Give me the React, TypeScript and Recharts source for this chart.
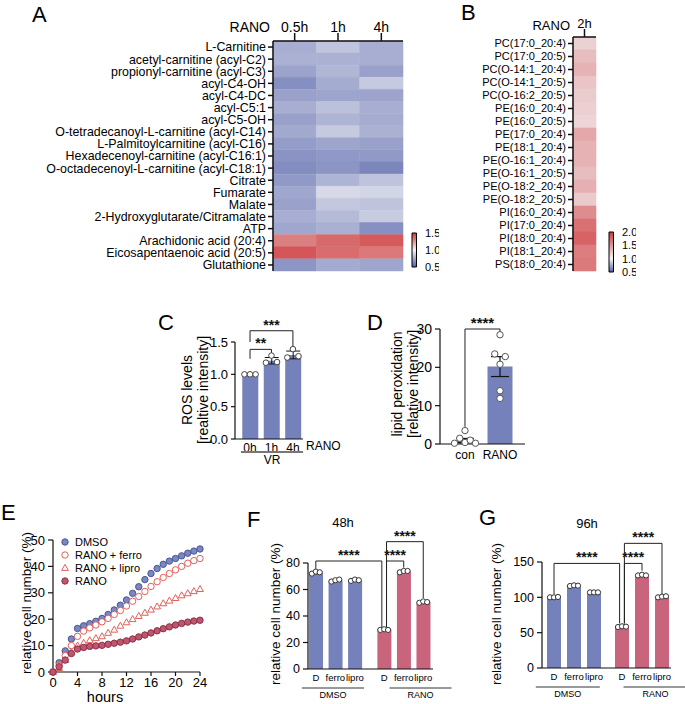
import React from "react";
import {
  BarChart, Bar, Cell, XAxis, YAxis, ComposedChart, Scatter, ScatterChart,
  ErrorBar, ReferenceLine,
} from "recharts";

const FONT = "'Liberation Sans', Arial, Helvetica, sans-serif";
const AX = "#111";
const BLUE = "#7581bb";
const RED = "#c8647b";

// ---------- A: metabolite heatmap ----------
const metabolites = [
  "L-Carnitine",
  "acetyl-carnitine (acyl-C2)",
  "propionyl-carnitine (acyl-C3)",
  "acyl-C4-OH",
  "acyl-C4-DC",
  "acyl-C5:1",
  "acyl-C5-OH",
  "O-tetradecanoyl-L-carnitine (acyl-C14)",
  "L-Palmitoylcarnitine (acyl-C16)",
  "Hexadecenoyl-carnitine (acyl-C16:1)",
  "O-octadecenoyl-L-carnitine (acyl-C18:1)",
  "Citrate",
  "Fumarate",
  "Malate",
  "2-Hydroxyglutarate/Citramalate",
  "ATP",
  "Arachidonic acid (20:4)",
  "Eicosapentaenoic acid (20:5)",
  "Glutathione",
];
const timesA = ["0.5h", "1h", "4h"];
const rano05h = [0.77, 0.78, 0.735, 0.665, 0.726, 0.77, 0.723, 0.752, 0.71, 0.677, 0.658, 0.7, 0.745, 0.726, 0.768, 0.745, 1.31, 1.42, 0.684];
const rano1h = [0.845, 0.78, 0.794, 0.761, 0.739, 0.832, 0.787, 0.861, 0.739, 0.694, 0.684, 0.787, 0.913, 0.855, 0.81, 0.774, 1.37, 1.36, 0.758];
const rano4h = [0.77, 0.77, 0.723, 0.861, 0.732, 0.77, 0.761, 0.78, 0.723, 0.7, 0.635, 0.839, 0.9, 0.839, 0.868, 0.668, 1.41, 1.33, 0.742];
const scaleATicks = [0.5, 1.0, 1.5];

// ---------- B: lipid heatmap ----------
const lipids = [
  "PC(17:0_20:4)", "PC(17:0_20:5)", "PC(O-14:1_20:4)", "PC(O-14:1_20:5)", "PC(O-16:2_20:5)",
  "PE(16:0_20:4)", "PE(16:0_20:5)", "PE(17:0_20:4)", "PE(18:1_20:4)", "PE(O-16:1_20:4)",
  "PE(O-16:1_20:5)", "PE(O-18:2_20:4)", "PE(O-18:2_20:5)", "PI(16:0_20:4)", "PI(17:0_20:4)",
  "PI(18:0_20:4)", "PI(18:1_20:4)", "PS(18:0_20:4)",
];
const rano2h = [1.18, 1.29, 1.35, 1.25, 1.21, 1.19, 1.16, 1.4, 1.35, 1.35, 1.29, 1.36, 1.22, 1.55, 1.7, 1.77, 1.63, 1.65];
const scaleBTicks = [0.5, 1.0, 1.5, 2.0];

// ---------- C: ROS ----------
const rosCats = ["0h", "1h", "4h"];
const rosMean = [1.0, 1.21, 1.3];
const rosSd = [0.0, 0.05, 0.06];
const rosReps = [[1.0, 1.0, 1.0], [1.18, 1.29, 1.19], [1.26, 1.39, 1.28]];

// ---------- D: lipid peroxidation ----------
const lpoCats = ["con", "RANO"];
const lpoMean = [0.95, 20.2];
const lpoSem = [0.5, 2.6];
const lpoReps = [[3.5, 1.5, 0.2, 0.4, 1.0, 0.2], [28.5, 23.5, 22.8, 20.8, 13.9, 11.9]];

// ---------- E: growth curves ----------
const hours = [0, 1, 2, 3, 4, 5, 6, 7, 8, 9, 10, 11, 12, 13, 14, 15, 16, 17, 18, 19, 20, 21, 22, 23, 24];
const eDmso = [0, 3.5, 8, 12.5, 16.5, 17.5, 18.3, 19.2, 20.3, 21.8, 23.5, 25.3, 27.3, 29.8, 32.3, 35, 37.3, 39.2, 40.8, 42, 43, 44, 45, 45.8, 46.6];
const eFerro = [0, 2.5, 6.2, 10, 13.5, 15.5, 16.7, 17.8, 19, 20.3, 21.8, 23.3, 25, 26.8, 28.6, 30.5, 32.4, 34.2, 35.8, 37.3, 38.7, 40, 41.2, 42.2, 43];
const eLipro = [0, 1.5, 4.5, 7.5, 10, 11, 12, 12.8, 13.5, 14.8, 16, 17.5, 18.8, 20, 21.2, 22.4, 23.6, 24.8, 26, 27, 28, 29, 29.8, 30.6, 31.4];
const eRano = [0, 2, 4.5, 7, 8.7, 9.3, 9.7, 9.9, 10.1, 10.5, 10.9, 11.3, 11.8, 12.5, 13.3, 14, 14.8, 15.6, 16.4, 17.1, 17.8, 18.4, 18.9, 19.3, 19.6];

// ---------- F / G: cell number ----------
const treatCats = ["D", "ferro", "lipro", "D", "ferro", "lipro"];
const groupNames = ["DMSO", "RANO"];
const f48Mean = [72.8, 66.8, 67.0, 29.7, 73.7, 50.5];
const f48Sd = [0.8, 0.6, 0.5, 0.3, 0.6, 0.5];
const f48Reps = [[72, 73.5, 73], [66, 67, 67.5], [66.5, 67.5, 67], [29.5, 30, 29.5], [73, 74, 74], [50, 51, 50.5]];
const g96Mean = [100.2, 116.5, 107, 58.5, 131.3, 100.8];
const g96Sd = [0.3, 0.5, 0.2, 0.5, 0.6, 0.8];
const g96Reps = [[100, 100, 100.5], [116, 117, 116.5], [107, 107, 107], [58, 59, 58.5], [131, 132, 131], [100, 101, 101.5]];

// brackets: [barA, barB, y, legA, legB, stars]
type Br = [number, number, number, number, number, string];
const rosBrackets: Br[] = [
  [0, 1, 1.386, 1.24, 1.31, "**"],
  [0, 2, 1.674, 1.5, 1.426, "***"],
];
const lpoBrackets: Br[] = [[0, 1, 30, 4.5, 29, "****"]];
const f48Brackets: Br[] = [
  [0, 3, 81.5, 75.5, 31.5, "****"],
  [3, 4, 81.5, 31.5, 76.5, "****"],
  [3, 5, 96.1, 31.5, 53.5, "****"],
];
const g96Brackets: Br[] = [
  [0, 3, 148, 104.3, 63, "****"],
  [3, 4, 148, 63, 137.7, "****"],
  [3, 5, 176.4, 63, 104.7, "****"],
];

// ---------- helpers ----------
const LOW = [80, 94, 168];
const MID = [243, 243, 245];
const HIGH = [206, 56, 58];
function mix(a: number[], b: number[], t: number) {
  return `rgb(${a.map((v, i) => Math.round(v + (b[i] - v) * t)).join(",")})`;
}
function heat(v: number, lo: number, hi: number) {
  if (v < 1) return mix(MID, LOW, Math.min(1, (1 - v) / (1 - lo)));
  return mix(MID, HIGH, Math.min(1, (v - 1) / (hi - 1)));
}

function Txt({ x, y, size, anchor = "start", rotate = false, weight = 400, children }: any) {
  const tx = anchor === "start" ? "0" : anchor === "middle" ? "-50%" : "-100%";
  return (
    <div
      style={{
        position: "absolute", left: x, top: y, fontSize: size, fontWeight: weight,
        lineHeight: 1, whiteSpace: "nowrap",
        transform: rotate ? "translate(-50%,-50%) rotate(-90deg)" : `translate(${tx},-50%)`,
      }}
    >
      {children}
    </div>
  );
}

function Abs({ left, top, children }: any) {
  return <div style={{ position: "absolute", left, top }}>{children}</div>;
}

function starLabel(stars: string, size: number) {
  return (p: any) => {
    const vb = p.viewBox || {};
    return (
      <text x={vb.x + (vb.width || 0) / 2} y={vb.y - 1} textAnchor="middle" fontSize={size} fontWeight={700} fill="#111">
        {stars}
      </text>
    );
  };
}

function brackets(id: string, list: Br[], pos: number[], size: number, shift = 0) {
  const out: any[] = [];
  list.forEach(([a, b, y, la, lb, s], i) => {
    // legs that share the RANO D bar are nudged apart a little
    const xa = pos[a] + (a === 3 && shift ? shift : 0);
    const xb = pos[b] - (b === 3 && shift ? shift : 0);
    const common = { stroke: "#222", strokeWidth: 1, ifOverflow: "visible" as const };
    out.push(<ReferenceLine key={`${id}${i}h`} segment={[{ x: xa, y }, { x: xb, y }]} {...common} label={starLabel(s, size)} />);
    out.push(<ReferenceLine key={`${id}${i}a`} segment={[{ x: xa, y }, { x: xa, y: la }]} {...common} />);
    out.push(<ReferenceLine key={`${id}${i}b`} segment={[{ x: xb, y }, { x: xb, y: lb }]} {...common} />);
  });
  return out;
}

const openDot = (r: number, stroke = "#444") => (p: any) => (
  <circle cx={p.cx} cy={p.cy} r={r} fill="#fff" stroke={stroke} strokeWidth={1} />
);

// ---------- heatmaps ----------
function HeatmapA() {
  const rows = metabolites.map((name) => ({ name, c0: 1, c1: 1, c2: 1 }));
  const cols = [rano05h, rano1h, rano4h];
  return (
    <BarChart layout="vertical" width={420} height={280} data={rows}
      margin={{ top: 11, right: 17, bottom: 9, left: 0 }} barCategoryGap={0} barGap={0}>
      <XAxis type="number" orientation="top" domain={[0, 3]} ticks={[0.5, 1.5, 2.5]}
        tickFormatter={(v) => timesA[Math.floor(v)]} height={30} tickSize={8} tickMargin={1} interval={0}
        stroke={AX} strokeWidth={1.5} tick={{ fontSize: 14, fill: "#000" }} />
      <XAxis xAxisId="frame" type="number" orientation="bottom" domain={[0, 3]} height={0}
        tick={false} tickLine={false} stroke={AX} strokeWidth={1.5} />
      <YAxis type="category" dataKey="name" width={273} interval={0} tickSize={5} tickMargin={2}
        stroke={AX} strokeWidth={1.5} tick={{ fontSize: 12.4, fill: "#000" }} />
      <YAxis yAxisId="frame" type="category" dataKey="name" orientation="right" width={0}
        tick={false} tickLine={false} stroke={AX} strokeWidth={1.5} />
      {cols.map((vals, j) => (
        <Bar key={j} dataKey={`c${j}`} stackId="h" isAnimationActive={false}>
          {vals.map((v, i) => (
            <Cell key={i} fill={heat(v, 0.5, 1.5)} stroke={heat(v, 0.5, 1.5)} strokeWidth={0.6} />
          ))}
        </Bar>
      ))}
    </BarChart>
  );
}

function HeatmapB() {
  const rows = lipids.map((name) => ({ name, c0: 1 }));
  return (
    <BarChart layout="vertical" width={200} height={280} data={rows}
      margin={{ top: 7, right: 14, bottom: 9, left: 0 }} barCategoryGap={0} barGap={0}>
      <XAxis type="number" orientation="top" domain={[0, 1]} ticks={[0.5]} tickFormatter={() => "2h"}
        height={30} tickSize={8} tickMargin={1} interval={0} stroke={AX} strokeWidth={1.5}
        tick={{ fontSize: 13, fill: "#000" }} />
      <XAxis xAxisId="frame" type="number" orientation="bottom" domain={[0, 1]} height={0}
        tick={false} tickLine={false} stroke={AX} strokeWidth={1.5} />
      <YAxis type="category" dataKey="name" width={163} interval={0} tickSize={5} tickMargin={2}
        stroke={AX} strokeWidth={1.5} tick={{ fontSize: 11, fill: "#000" }} />
      <YAxis yAxisId="frame" type="category" dataKey="name" orientation="right" width={0}
        tick={false} tickLine={false} stroke={AX} strokeWidth={1.5} />
      <Bar dataKey="c0" stackId="h" isAnimationActive={false}>
        {rano2h.map((v, i) => (
          <Cell key={i} fill={heat(v, 0.5, 2.0)} stroke={heat(v, 0.5, 2.0)} strokeWidth={0.6} />
        ))}
      </Bar>
    </BarChart>
  );
}

function ColorBar({ id, ticks, height, top, bottom }: any) {
  const lo = ticks[0];
  const hi = ticks[ticks.length - 1];
  const whiteAt = ((hi - 1) / (hi - lo)) * 100;
  return (
    <BarChart width={34} height={height} data={[{ name: "", r: [lo, hi] }]}
      margin={{ top, bottom, left: 7, right: 0 }} barCategoryGap={0}>
      <defs>
        <linearGradient id={id} x1="0" y1="0" x2="0" y2="1">
          <stop offset="0%" stopColor={mix(MID, HIGH, 1)} />
          <stop offset={`${whiteAt}%`} stopColor={mix(MID, HIGH, 0)} />
          <stop offset="100%" stopColor={mix(MID, LOW, 1)} />
        </linearGradient>
      </defs>
      <XAxis dataKey="name" hide />
      <YAxis orientation="right" domain={[lo, hi]} ticks={ticks} width={22} tickLine={false}
        axisLine={false} tickMargin={2} interval={0} tick={{ fontSize: 11, fill: "#000" }}
        tickFormatter={(v) => Number(v).toFixed(1)} />
      <Bar dataKey="r" fill={`url(#${id})`} stroke="#000" strokeWidth={1} barSize={5} isAnimationActive={false} />
    </BarChart>
  );
}

// ---------- C ----------
function RosChart() {
  const pos = rosCats.map((_, i) => i);
  const dom = [-0.7, 2.47];
  const bars = pos.map((x, i) => ({ x, y: rosMean[i], sd: rosSd[i] }));
  const pts = rosReps.flatMap((r, i) => r.map((y, k) => ({ x: pos[i] + (k - 1) * 0.26, y })));
  return (
    <ComposedChart width={200} height={170} data={bars} margin={{ top: 42, right: 37, bottom: 11, left: 0 }}>
      <XAxis dataKey="x" type="number" domain={dom} ticks={pos} interval={0}
        tickFormatter={(v) => rosCats[v]} height={20} tickLine={false} tickSize={0} tickMargin={4}
        stroke={AX} strokeWidth={1.2} tick={{ fontSize: 12, fill: "#000" }} />
      <XAxis xAxisId="pts" dataKey="x" type="number" domain={dom} hide />
      <YAxis type="number" domain={[0, 1.5]} ticks={[0, 0.5, 1, 1.5]} width={95} tickSize={4} tickMargin={3}
        tickFormatter={(v) => Number(v).toFixed(1)} stroke={AX} strokeWidth={1.2}
        tick={{ fontSize: 13, fill: "#000" }} />
      <Bar dataKey="y" fill={BLUE} barSize={16} isAnimationActive={false}>
        <ErrorBar dataKey="sd" width={7} stroke="#111" strokeWidth={1} direction="y" />
      </Bar>
      <Scatter xAxisId="pts" data={pts} dataKey="y" shape={openDot(2.8)} isAnimationActive={false} />
      {brackets("c", rosBrackets, pos, 14)}
    </ComposedChart>
  );
}

// ---------- D ----------
function LpoChart() {
  const pos = lpoCats.map((_, i) => i);
  const dom = [-0.714, 1.714];
  const bars = pos.map((x, i) => ({ x, y: lpoMean[i], sem: lpoSem[i] }));
  const jit = [[0, -0.15, -0.3, 0, 0.15, 0.3], [0, -0.15, 0.15, 0, 0, 0]];
  const pts = lpoReps.flatMap((r, i) => r.map((y, k) => ({ x: pos[i] + jit[i][k], y })));
  return (
    <ComposedChart width={200} height={170} data={bars} margin={{ top: 29, right: 15, bottom: 6, left: 0 }}>
      <XAxis dataKey="x" type="number" domain={dom} ticks={pos} interval={0}
        tickFormatter={(v) => lpoCats[v]} height={20} tickLine={false} tickSize={0} tickMargin={6}
        stroke={AX} strokeWidth={1.2} tick={{ fontSize: 12, fill: "#000" }} />
      <XAxis xAxisId="pts" dataKey="x" type="number" domain={dom} hide />
      <YAxis type="number" domain={[0, 30]} ticks={[0, 10, 20, 30]} width={100} tickSize={5} tickMargin={3}
        stroke={AX} strokeWidth={1.2} tick={{ fontSize: 14, fill: "#000" }} />
      <Bar dataKey="y" fill={BLUE} barSize={25} isAnimationActive={false}>
        <ErrorBar dataKey="sem" width={9} stroke="#111" strokeWidth={1.2} direction="y" />
      </Bar>
      <Scatter xAxisId="pts" data={pts} dataKey="y" shape={openDot(3.2, "#555")} isAnimationActive={false} />
      {brackets("d", lpoBrackets, pos, 15)}
    </ComposedChart>
  );
}

// ---------- E ----------
const eStyles = [
  { name: "DMSO", vals: eDmso, kind: "dot", fill: "#7b87c2", stroke: "#4a5696" },
  { name: "RANO + ferro", vals: eFerro, kind: "dot", fill: "#fff", stroke: "#e0605c" },
  { name: "RANO + lipro", vals: eLipro, kind: "tri", fill: "#fff", stroke: "#e0605c" },
  { name: "RANO", vals: eRano, kind: "dot", fill: "#c0566e", stroke: "#8a2f48" },
];

function Marker({ kind, fill, stroke, cx, cy }: any) {
  if (kind === "tri") {
    return (
      <polygon points={`${cx},${cy - 3.6} ${cx - 3.4},${cy + 2.4} ${cx + 3.4},${cy + 2.4}`}
        fill={fill} stroke={stroke} strokeWidth={1} />
    );
  }
  return <circle cx={cx} cy={cy} r={3.2} fill={fill} stroke={stroke} strokeWidth={1} />;
}

function GrowthChart() {
  return (
    <ScatterChart width={230} height={194} margin={{ top: 30, right: 30, bottom: 12, left: 0 }}>
      <XAxis dataKey="x" type="number" domain={[0, 24]} ticks={[0, 4, 8, 12, 16, 20, 24]} interval={0}
        height={20} tickSize={4} tickMargin={2} stroke={AX} strokeWidth={1.2}
        tick={{ fontSize: 13, fill: "#000" }} />
      <YAxis dataKey="y" type="number" domain={[0, 50]} ticks={[0, 10, 20, 30, 40, 50]} interval={0}
        width={53} tickSize={5} tickMargin={3} stroke={AX} strokeWidth={1.2}
        tick={{ fontSize: 13, fill: "#000" }} />
      {eStyles.map((s) => (
        <Scatter key={s.name} name={s.name} data={hours.map((h, i) => ({ x: h, y: s.vals[i] }))}
          isAnimationActive={false}
          shape={(p: any) => <Marker kind={s.kind} fill={s.fill} stroke={s.stroke} cx={p.cx} cy={p.cy} />} />
      ))}
    </ScatterChart>
  );
}

function GrowthLegend() {
  return (
    <>
      {eStyles.map((s, i) => (
        <React.Fragment key={s.name}>
          <svg style={{ position: "absolute", left: 60, top: 537 + i * 13.1 }} width={10} height={10}>
            <Marker kind={s.kind} fill={s.fill} stroke={s.stroke} cx={5} cy={5} />
          </svg>
          <Txt x={75} y={542 + i * 13.1} size={11}>{s.name}</Txt>
        </React.Fragment>
      ))}
    </>
  );
}

// ---------- F / G ----------
function GroupTick({ x, y, index, half }: any) {
  return (
    <g>
      <line x1={x - half} x2={x + half} y1={y + 5} y2={y + 5} stroke="#777" strokeWidth={1.5} />
      <text x={x} y={y + 15} textAnchor="middle" fontSize={9} fill="#000">{groupNames[index]}</text>
    </g>
  );
}

function CellChart({ mean, sd, reps, list, gap, domain, yMax, yTicks, margin, yWidth, half }: any) {
  const pos = treatCats.map((_, i) => (i < 3 ? i : i + gap));
  const centers = [pos[1], pos[4]];
  const bars = pos.map((x, i) => ({ x, y: mean[i], sd: sd[i] }));
  const pts = reps.flatMap((r: number[], i: number) => r.map((y, k) => ({ x: pos[i] + (k - 1) * 0.2, y })));
  return (
    <ComposedChart width={230} height={204} data={bars} margin={margin}>
      <XAxis dataKey="x" type="number" domain={domain} ticks={pos} interval={0}
        tickFormatter={(v) => treatCats[pos.indexOf(v)]} height={14} tickLine={false} tickSize={0} tickMargin={5}
        stroke={AX} strokeWidth={1.2} tick={{ fontSize: 9.5, fill: "#000" }} />
      <XAxis xAxisId="grp" type="number" domain={domain} ticks={centers} interval={0} height={20}
        axisLine={false} tickLine={false} tickSize={0} tickMargin={0}
        tick={(p: any) => <GroupTick {...p} half={half} />} />
      <XAxis xAxisId="pts" dataKey="x" type="number" domain={domain} hide />
      <YAxis type="number" domain={[0, yMax]} ticks={yTicks} interval={0} width={yWidth} tickSize={5} tickMargin={3}
        stroke={AX} strokeWidth={1.2} tick={{ fontSize: 12.5, fill: "#000" }} />
      <Bar dataKey="y" barSize={14} isAnimationActive={false}>
        {bars.map((_, i) => <Cell key={i} fill={i < 3 ? BLUE : RED} />)}
        <ErrorBar dataKey="sd" width={6} stroke="#111" strokeWidth={1} direction="y" />
      </Bar>
      <Scatter xAxisId="pts" data={pts} dataKey="y" shape={openDot(2.6, "#333")} isAnimationActive={false} />
      {brackets("f", list, pos, 14, 0.12)}
    </ComposedChart>
  );
}

export default function App() {
  return (
    <div style={{ position: "absolute", left: 0, top: 0, width: 685, height: 704, background: "#fff", fontFamily: FONT, color: "#000", overflow: "hidden" }}>
      {/* panel letters */}
      <Txt x={32} y={15} size={22}>A</Txt>
      <Txt x={461} y={13} size={22}>B</Txt>
      <Txt x={158} y={323} size={22}>C</Txt>
      <Txt x={367} y={323} size={22}>D</Txt>
      <Txt x={1} y={513} size={22}>E</Txt>
      <Txt x={247} y={520} size={22}>F</Txt>
      <Txt x={479} y={518} size={22}>G</Txt>

      {/* A */}
      <Abs left={0} top={0}><HeatmapA /></Abs>
      <Txt x={270} y={27} size={14} anchor="end">RANO</Txt>
      <Abs left={405} top={222}><ColorBar id="gradA" ticks={scaleATicks} height={60} top={11} bottom={15} /></Abs>

      {/* B */}
      <Abs left={410} top={0}><HeatmapB /></Abs>
      <Txt x={570} y={25} size={13} anchor="end">RANO</Txt>
      <Abs left={602} top={222}><ColorBar id="gradB" ticks={scaleBTicks} height={64} top={10} bottom={14} /></Abs>

      {/* C */}
      <Abs left={140} top={300}><RosChart /></Abs>
      <Txt x={187} y={390} size={14} rotate>ROS levels</Txt>
      <Txt x={203} y={390} size={14} rotate>[realtive intensity]</Txt>
      <Txt x={306} y={446} size={12}>RANO</Txt>
      <div style={{ position: "absolute", left: 241, top: 451, width: 62, height: 1.5, background: "#777" }} />
      <Txt x={272} y={460} size={12} anchor="middle">VR</Txt>

      {/* D */}
      <Abs left={340} top={300}><LpoChart /></Abs>
      <Txt x={397} y={384} size={14} rotate>lipid peroxidation</Txt>
      <Txt x={413} y={384} size={14} rotate>[relative intensity]</Txt>

      {/* E */}
      <Abs left={0} top={510}><GrowthChart /></Abs>
      <GrowthLegend />
      <Txt x={27} y={603} size={13.5} rotate>relative cell number (%)</Txt>
      <Txt x={105} y={697} size={14.5} anchor="middle">hours</Txt>

      {/* F */}
      <Abs left={228} top={500}>
        <CellChart mean={f48Mean} sd={f48Sd} reps={f48Reps} list={f48Brackets} gap={0.5}
          domain={[-0.4, 6.0]} yMax={80} yTicks={[0, 20, 40, 60, 80]}
          margin={{ top: 63, right: 25, bottom: 1, left: 0 }} yWidth={80} half={31} />
      </Abs>
      <Txt x={343} y={522} size={13} anchor="middle">48h</Txt>
      <Txt x={276} y={614} size={13.5} rotate>relative cell number (%)</Txt>

      {/* G */}
      <Abs left={455} top={500}>
        <CellChart mean={g96Mean} sd={g96Sd} reps={g96Reps} list={g96Brackets} gap={0.4}
          domain={[-0.6, 5.85]} yMax={150} yTicks={[0, 50, 100, 150]}
          margin={{ top: 62, right: 14, bottom: 2, left: 0 }} yWidth={87} half={32} />
      </Abs>
      <Txt x={587} y={523} size={13} anchor="middle">96h</Txt>
      <Txt x={497} y={614} size={13.5} rotate>relative cell number (%)</Txt>
    </div>
  );
}
